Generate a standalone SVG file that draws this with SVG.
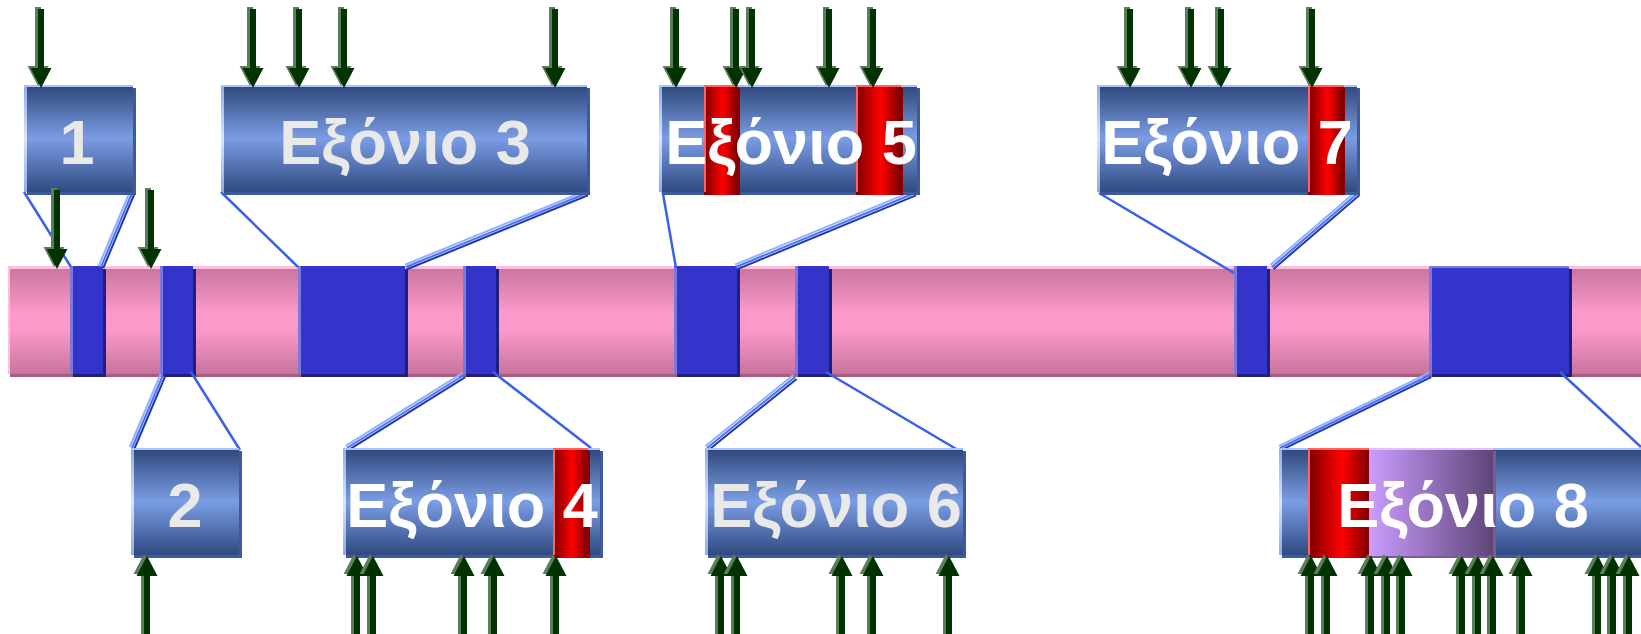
<svg xmlns="http://www.w3.org/2000/svg" xmlns:xlink="http://www.w3.org/1999/xlink" width="1641" height="634" viewBox="0 0 1641 634">
<defs>
<linearGradient id="gBar" x1="0" y1="0" x2="0" y2="1">
<stop offset="0" stop-color="#c7749d"/>
<stop offset="0.45" stop-color="#fd9acc"/>
<stop offset="0.6" stop-color="#fb98ca"/>
<stop offset="1" stop-color="#c7749d"/>
</linearGradient>
<linearGradient id="gBox" x1="0" y1="0" x2="0" y2="1">
<stop offset="0" stop-color="#2e4779"/>
<stop offset="0.5" stop-color="#7b9de5"/>
<stop offset="1" stop-color="#2f4a80"/>
</linearGradient>
<linearGradient id="gEdge" x1="0" y1="0" x2="0" y2="1">
<stop offset="0" stop-color="#8eaaf0"/>
<stop offset="0.5" stop-color="#d6e4ff"/>
<stop offset="1" stop-color="#8eaaf0"/>
</linearGradient>
<linearGradient id="gRed" x1="0" y1="0" x2="1" y2="0">
<stop offset="0" stop-color="#7a0000"/>
<stop offset="0.55" stop-color="#ff0000"/>
<stop offset="1" stop-color="#780000"/>
</linearGradient>
<linearGradient id="gPurple" x1="0" y1="0" x2="1" y2="0">
<stop offset="0" stop-color="#cb9cff"/>
<stop offset="1" stop-color="#5d4677"/>
</linearGradient>
<g id="arrDown">
<polygon points="-3,-79 3,-79 3,-20 10.5,-20 0,0 -10.5,-20 -3,-20" fill="#5b7d5b" transform="translate(-3,-2)"/>
<polygon points="-3,-79 3,-79 3,-20 10.5,-20 0,0 -10.5,-20 -3,-20" fill="#013301"/>
</g>
<g id="arrUp">
<polygon points="0,0 10.5,20 3,20 3,84 -3,84 -3,20 -10.5,20" fill="#5b7d5b" transform="translate(-3,-2)"/>
<polygon points="0,0 10.5,20 3,20 3,84 -3,84 -3,20 -10.5,20" fill="#013301"/>
</g>
</defs>
<style>
.shadow{fill:#3c5a9c}
.box{fill:url(#gBox)}
.edge{fill:url(#gEdge)}
.top{fill:#a9c3ff}
.red{fill:url(#gRed)}
.redsh{fill:#8a0000}
.redhl{fill:#ff6464}
.pur{fill:url(#gPurple)}
.exon{fill:#3434cb}
.exsh{fill:#1e1e7e}
.exhl{fill:#7a7ade}
.lbl{font-family:"Liberation Sans",Arial,sans-serif;font-weight:bold;font-size:63px;text-anchor:middle}
.gray{fill:#e9e9e9}
.white{fill:#ffffff}
.single{stroke:#3862ea;stroke-width:2.5;fill:none}
.tl{stroke:#90b2ff;stroke-width:2;fill:none}
.tm{stroke:#4a72f2;stroke-width:2;fill:none}
.td{stroke:#2238a8;stroke-width:2;fill:none}
</style>

<g id="bar">
<rect x="10" y="269" width="1631" height="108" fill="#a85c80"/>
<rect x="8" y="266" width="1633" height="108" fill="url(#gBar)"/>
<rect x="8" y="266" width="1633" height="3" fill="#ffbedf"/>
<rect x="8" y="266" width="2" height="108" fill="#ffbedf"/>
</g>

<g id="exon-1"><rect class="exsh" x="73" y="269" width="33" height="108"/><rect class="exon" x="70" y="266" width="33" height="108"/><rect class="exhl" x="70" y="266" width="3" height="108"/></g>
<g id="exon-2"><rect class="exsh" x="163" y="269" width="33" height="108"/><rect class="exon" x="160" y="266" width="33" height="108"/><rect class="exhl" x="160" y="266" width="3" height="108"/></g>
<g id="exon-3"><rect class="exsh" x="301" y="269" width="107" height="108"/><rect class="exon" x="298" y="266" width="107" height="108"/><rect class="exhl" x="298" y="266" width="3" height="108"/></g>
<g id="exon-4"><rect class="exsh" x="466" y="269" width="33" height="108"/><rect class="exon" x="463" y="266" width="33" height="108"/><rect class="exhl" x="463" y="266" width="3" height="108"/></g>
<g id="exon-5"><rect class="exsh" x="677" y="269" width="63" height="108"/><rect class="exon" x="674" y="266" width="63" height="108"/><rect class="exhl" x="674" y="266" width="3" height="108"/></g>
<g id="exon-6"><rect class="exsh" x="798" y="269" width="34" height="108"/><rect class="exon" x="795" y="266" width="34" height="108"/><rect class="exhl" x="795" y="266" width="3" height="108"/></g>
<g id="exon-7"><rect class="exsh" x="1237" y="269" width="33" height="108"/><rect class="exon" x="1234" y="266" width="33" height="108"/><rect class="exhl" x="1234" y="266" width="3" height="108"/></g>
<g id="exon-8"><rect class="exsh" x="1432" y="269" width="140" height="108"/><rect class="exon" x="1429" y="266" width="140" height="108"/><rect class="exhl" x="1429" y="266" width="3" height="108"/><rect class="exhl" x="1429" y="266" width="140" height="2"/></g>

<g id="connectors">
<line class="single" x1="24" y1="192" x2="71" y2="267"/>
<line class="single" x1="221" y1="192" x2="298" y2="267"/>
<line class="single" x1="662" y1="188" x2="676" y2="268"/>
<line class="single" x1="1099" y1="193" x2="1234" y2="273"/>
<line class="single" x1="191" y1="372" x2="240" y2="450"/>
<line class="single" x1="493" y1="372" x2="591" y2="448"/>
<line class="single" x1="826" y1="372" x2="963" y2="453"/>
<line class="single" x1="1560" y1="372" x2="1641" y2="447"/>
<line class="tl" x1="129.7" y1="192" x2="98.7" y2="266"/><line class="tm" x1="132" y1="193" x2="101" y2="267"/><line class="td" x1="134.3" y1="194" x2="103.3" y2="268"/>
<line class="tl" x1="586" y1="190.7" x2="405" y2="264.7"/><line class="tm" x1="587" y1="193" x2="406" y2="267"/><line class="td" x1="588" y1="195.3" x2="407" y2="269.3"/>
<line class="tl" x1="914" y1="190.7" x2="735" y2="264.7"/><line class="tm" x1="915" y1="193" x2="736" y2="267"/><line class="td" x1="916" y1="195.3" x2="737" y2="269.3"/>
<line class="tl" x1="1356.4" y1="191.1" x2="1270.4" y2="265.1"/><line class="tm" x1="1358" y1="193" x2="1272" y2="267"/><line class="td" x1="1359.6" y1="194.9" x2="1273.6" y2="268.9"/>
<line class="tl" x1="160.7" y1="374" x2="129.7" y2="447"/><line class="tm" x1="163" y1="375" x2="132" y2="448"/><line class="td" x1="165.3" y1="376" x2="134.3" y2="449"/>
<line class="tl" x1="462.7" y1="372.9" x2="345.7" y2="445.9"/><line class="tm" x1="464" y1="375" x2="347" y2="448"/><line class="td" x1="465.3" y1="377.1" x2="348.3" y2="450.1"/>
<line class="tl" x1="793.4" y1="375" x2="705.4" y2="446"/><line class="tm" x1="795" y1="377" x2="707" y2="448"/><line class="td" x1="796.6" y1="379" x2="708.6" y2="450"/>
<line class="tl" x1="1428.9" y1="372.8" x2="1278.9" y2="445.8"/><line class="tm" x1="1430" y1="375" x2="1280" y2="448"/><line class="td" x1="1431.1" y1="377.2" x2="1281.1" y2="450.2"/>
</g>

<g id="box-1">
<rect class="shadow" x="27" y="88" width="109" height="107"/>
<rect class="box" x="24" y="85" width="109" height="107"/>
<rect class="edge" x="24" y="85" width="3" height="107"/>
<rect class="top" x="24" y="85" width="109" height="2"/>
<text class="lbl gray" x="77" y="164">1</text>
</g>
<g id="box-3">
<rect class="shadow" x="224" y="88" width="366" height="107"/>
<rect class="box" x="221" y="85" width="366" height="107"/>
<rect class="edge" x="221" y="85" width="3" height="107"/>
<rect class="top" x="221" y="85" width="366" height="2"/>
<text class="lbl gray" x="405" y="164">Εξόνιο 3</text>
</g>
<g id="box-5">
<rect class="shadow" x="662" y="88" width="258" height="107"/>
<rect class="box" x="659" y="85" width="258" height="107"/>
<rect class="edge" x="659" y="85" width="3" height="107"/>
<rect class="top" x="659" y="85" width="258" height="2"/>
<rect class="redsh" x="707" y="88" width="33" height="107"/>
<rect class="red" x="704" y="85" width="34" height="110"/>
<rect class="redhl" x="704" y="85" width="2" height="107"/>
<rect class="redhl" x="704" y="85" width="34" height="2"/>
<rect class="redsh" x="859" y="88" width="44" height="107"/>
<rect class="red" x="856" y="85" width="45" height="110"/>
<rect class="redhl" x="856" y="85" width="2" height="107"/>
<rect class="redhl" x="856" y="85" width="45" height="2"/>
<text class="lbl white" x="791" y="164">Εξόνιο 5</text>
</g>
<g id="box-7">
<rect class="shadow" x="1100" y="88" width="260" height="107"/>
<rect class="box" x="1097" y="85" width="260" height="107"/>
<rect class="edge" x="1097" y="85" width="3" height="107"/>
<rect class="top" x="1097" y="85" width="260" height="2"/>
<rect class="redsh" x="1311" y="88" width="34" height="107"/>
<rect class="red" x="1308" y="85" width="36" height="110"/>
<rect class="redhl" x="1308" y="85" width="2" height="107"/>
<rect class="redhl" x="1308" y="85" width="36" height="2"/>
<text class="lbl white" x="1227" y="164">Εξόνιο 7</text>
</g>
<g id="box-2">
<rect class="shadow" x="134" y="451" width="108" height="107"/>
<rect class="box" x="131" y="448" width="108" height="107"/>
<rect class="edge" x="131" y="448" width="3" height="107"/>
<rect class="top" x="131" y="448" width="108" height="2"/>
<text class="lbl gray" x="185" y="527">2</text>
</g>
<g id="box-4">
<rect class="shadow" x="346" y="451" width="257" height="107"/>
<rect class="box" x="343" y="448" width="257" height="107"/>
<rect class="edge" x="343" y="448" width="3" height="107"/>
<rect class="top" x="343" y="448" width="257" height="2"/>
<rect class="redsh" x="556" y="451" width="34" height="107"/>
<rect class="red" x="553" y="448" width="35" height="110"/>
<rect class="redhl" x="553" y="448" width="2" height="107"/>
<rect class="redhl" x="553" y="448" width="35" height="2"/>
<text class="lbl white" x="472" y="527">Εξόνιο 4</text>
</g>
<g id="box-6">
<rect class="shadow" x="708" y="451" width="258" height="107"/>
<rect class="box" x="705" y="448" width="258" height="107"/>
<rect class="edge" x="705" y="448" width="3" height="107"/>
<rect class="top" x="705" y="448" width="258" height="2"/>
<text class="lbl gray" x="836" y="527">Εξόνιο 6</text>
</g>
<g id="box-8">
<rect class="shadow" x="1282" y="451" width="362" height="107"/>
<rect class="box" x="1279" y="448" width="362" height="107"/>
<rect class="edge" x="1279" y="448" width="3" height="107"/>
<rect class="top" x="1279" y="448" width="362" height="2"/>
<rect class="redsh" x="1311" y="451" width="62" height="107"/>
<rect class="red" x="1308" y="448" width="62" height="110"/>
<rect class="redhl" x="1308" y="448" width="2" height="107"/>
<rect class="redhl" x="1308" y="448" width="62" height="2"/>
<rect fill="#7a5c92" x="1372" y="451" width="124" height="107"/>
<rect class="pur" x="1369" y="448" width="124" height="108"/>
<rect fill="#dcc4fb" x="1369" y="448" width="124" height="2"/>
<text class="lbl white" x="1463" y="527">Εξόνιο 8</text>
</g>

<g id="arrows">
<use xlink:href="#arrDown" x="41" y="88"/>
<use xlink:href="#arrDown" x="253" y="88"/>
<use xlink:href="#arrDown" x="299" y="88"/>
<use xlink:href="#arrDown" x="344" y="88"/>
<use xlink:href="#arrDown" x="555" y="88"/>
<use xlink:href="#arrDown" x="676" y="88"/>
<use xlink:href="#arrDown" x="736" y="88"/>
<use xlink:href="#arrDown" x="752" y="88"/>
<use xlink:href="#arrDown" x="829" y="88"/>
<use xlink:href="#arrDown" x="873" y="88"/>
<use xlink:href="#arrDown" x="1130" y="88"/>
<use xlink:href="#arrDown" x="1191" y="88"/>
<use xlink:href="#arrDown" x="1221" y="88"/>
<use xlink:href="#arrDown" x="1312" y="88"/>
<use xlink:href="#arrDown" x="57" y="269"/>
<use xlink:href="#arrDown" x="151" y="269"/>
<use xlink:href="#arrUp" x="147" y="556"/>
<use xlink:href="#arrUp" x="357" y="556"/>
<use xlink:href="#arrUp" x="373" y="556"/>
<use xlink:href="#arrUp" x="464" y="556"/>
<use xlink:href="#arrUp" x="494" y="556"/>
<use xlink:href="#arrUp" x="556" y="556"/>
<use xlink:href="#arrUp" x="721" y="556"/>
<use xlink:href="#arrUp" x="737" y="556"/>
<use xlink:href="#arrUp" x="842" y="556"/>
<use xlink:href="#arrUp" x="873" y="556"/>
<use xlink:href="#arrUp" x="949" y="556"/>
<use xlink:href="#arrUp" x="1311" y="556"/>
<use xlink:href="#arrUp" x="1327" y="556"/>
<use xlink:href="#arrUp" x="1371" y="556"/>
<use xlink:href="#arrUp" x="1387" y="556"/>
<use xlink:href="#arrUp" x="1402" y="556"/>
<use xlink:href="#arrUp" x="1462" y="556"/>
<use xlink:href="#arrUp" x="1478" y="556"/>
<use xlink:href="#arrUp" x="1493" y="556"/>
<use xlink:href="#arrUp" x="1522" y="556"/>
<use xlink:href="#arrUp" x="1598" y="556"/>
<use xlink:href="#arrUp" x="1613" y="556"/>
<use xlink:href="#arrUp" x="1629" y="556"/>
</g>
</svg>
